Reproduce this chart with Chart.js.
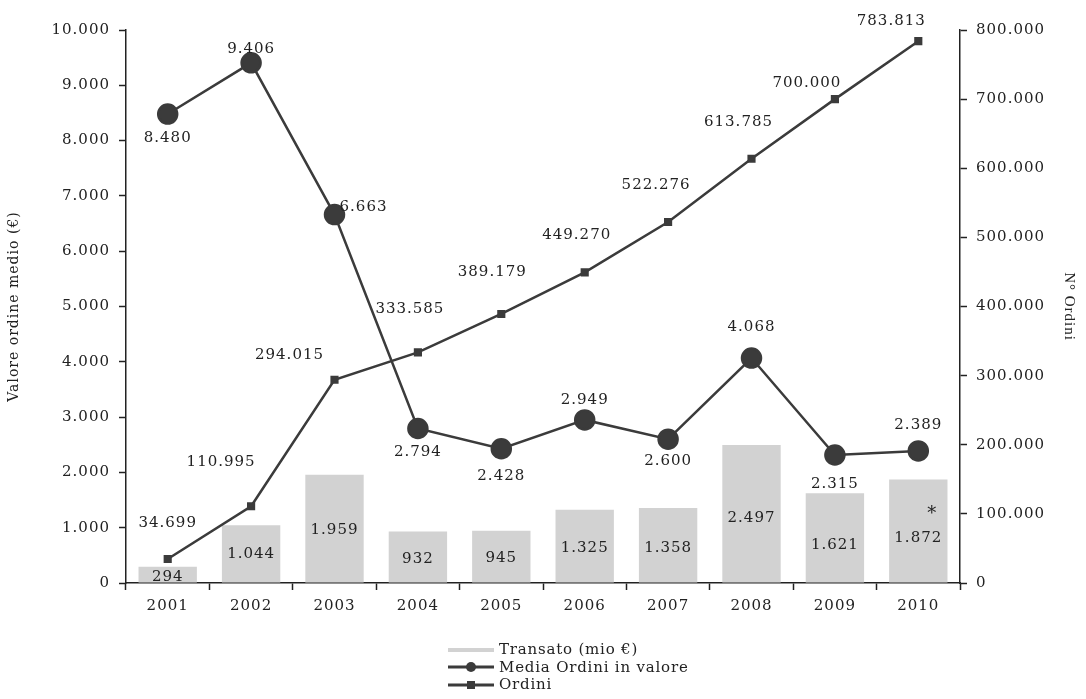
<!DOCTYPE html>
<html>
<head>
<meta charset="utf-8">
<script src="https://cdn.jsdelivr.net/npm/chart.js@4.4.1/dist/chart.umd.min.js"></script>
<style>
  body { margin: 0; background: #fff; }
  #wrap { position: relative; width: 1086px; height: 699px; }
  #legend { position: absolute; left: 446px; top: 641px; font-family: "DejaVu Serif", serif; font-size: 15px; letter-spacing: 0.8px; color: #222; }
  #legend div { height: 17.5px; line-height: 17.5px; display: flex; align-items: center; }
  #legend svg { margin-right: 3px; }
</style>
</head>
<body>
<div id="wrap">
  <canvas id="chart" width="1086" height="699"></canvas>
  <div id="legend">
    <div><svg width="50" height="12"><rect x="2" y="4" width="46" height="4" fill="#d2d2d2"/></svg>Transato (mio €)</div>
    <div><svg width="50" height="12"><line x1="2" y1="6" x2="48" y2="6" stroke="#3b3b3b" stroke-width="3"/><circle cx="25" cy="6" r="5" fill="#3b3b3b"/></svg>Media Ordini in valore</div>
    <div><svg width="50" height="12"><line x1="2" y1="6" x2="48" y2="6" stroke="#3b3b3b" stroke-width="3"/><rect x="21" y="2" width="8" height="8" fill="#3b3b3b"/></svg>Ordini</div>
  </div>
</div>
<script>
// Data
const years = ["2001", "2002", "2003", "2004", "2005", "2006", "2007", "2008", "2009", "2010"];
const transato = [294, 1044, 1959, 932, 945, 1325, 1358, 2497, 1621, 1872];
const mediaOrdini = [8480, 9406, 6663, 2794, 2428, 2949, 2600, 4068, 2315, 2389];
const ordini = [34699, 110995, 294015, 333585, 389179, 449270, 522276, 613785, 700000, 783813];
const barNotes = ["", "", "", "", "", "", "", "", "", "*"];

// label placement (pixels relative to the point)
const mediaOffsets = [[0, 24], [0, -14], [29, -7], [0, 24], [0, 27], [0, -20], [0, 22], [0, -31], [0, 29], [0, -26]];
const ordiniOffsets = [[0, -36], [-30, -44], [-45, -25], [-8, -43], [-9, -42], [-8, -37], [-12, -37], [-13, -37], [-28, -16], [-27, -20]];
const barOffsets = [2, 0, 2, 2, 1, 2, 3, 4, 7, 7];

const fmt = v => String(Math.round(v)).replace(/\B(?=(\d{3})+(?!\d))/g, '.');
const font = "DejaVu Serif";
const ink = "#3b3b3b";

// wider letter spacing like the original
const spacing = {
    id: 'spacing',
    beforeDraw(chart) { chart.ctx.letterSpacing = '1px'; }
};

// draws the value labels next to bars and points
const valueLabels = {
    id: 'valueLabels',
    afterDatasetsDraw(chart) {
        const ctx = chart.ctx;
        ctx.save();
        ctx.letterSpacing = '1px';
        ctx.font = "15px '" + font + "'";
        ctx.fillStyle = "#222";
        ctx.textAlign = "center";
        ctx.textBaseline = "middle";
        chart.data.datasets.forEach((ds, i) => {
            const meta = chart.getDatasetMeta(i);
            meta.data.forEach((el, j) => {
                const txt = fmt(ds.data[j]);
                if (ds.type === 'bar') {
                    const y = (el.y + el.base) / 2 + barOffsets[j];
                    ctx.fillText(txt, el.x, y);
                    if (barNotes[j]) {
                        ctx.font = "18px '" + font + "'";
                        ctx.fillText(barNotes[j], el.x + 14, y - 24);
                        ctx.font = "15px '" + font + "'";
                    }
                } else {
                    const off = ds.yAxisID === 'y1' ? ordiniOffsets[j] : mediaOffsets[j];
                    ctx.fillText(txt, el.x + off[0], el.y + off[1]);
                }
            });
        });
        ctx.restore();
    }
};

const axisGrid = {
    display: true,
    drawOnChartArea: false,
    drawTicks: true,
    tickLength: 7,
    tickWidth: 1.5,
    color: "#222"
};
const tickFont = { family: font, size: 15 };

const config = {
    data: {
        labels: years,
        datasets: [{
            type: 'line',
            label: "Media Ordini in valore",
            data: mediaOrdini,
            yAxisID: 'y',
            borderColor: ink,
            backgroundColor: ink,
            borderWidth: 2.5,
            pointRadius: 9.5,
            pointHoverRadius: 9.5,
            tension: 0,
            order: 1
        }, {
            type: 'line',
            label: "Ordini",
            data: ordini,
            yAxisID: 'y1',
            borderColor: ink,
            backgroundColor: ink,
            borderWidth: 2.5,
            pointStyle: 'rect',
            pointRadius: 4,
            pointHoverRadius: 4,
            tension: 0,
            order: 2
        }, {
            type: 'bar',
            label: "Transato (mio €)",
            data: transato,
            yAxisID: 'y',
            backgroundColor: "#d2d2d2",
            barPercentage: 0.7,
            categoryPercentage: 1,
            order: 3
        }]
    },
    options: {
        responsive: false,
        animation: false,
        layout: {
            padding: { top: 30, left: 6, right: 4, bottom: 0 }
        },
        plugins: {
            legend: { display: false },
            tooltip: { enabled: false }
        },
        scales: {
            x: {
                grid: axisGrid,
                border: { display: true, color: "#222", width: 1.5 },
                ticks: { color: "#222", padding: 7, font: tickFont },
                afterFit: s => { s.height = 116; }
            },
            y: {
                position: 'left',
                min: 0,
                max: 10000,
                grid: axisGrid,
                border: { display: true, color: "#222", width: 1.5 },
                ticks: { stepSize: 1000, color: "#222", padding: 9, font: tickFont, callback: v => fmt(v) },
                title: { display: true, text: "Valore ordine medio (€)", color: "#222", font: { family: "DejaVu Serif", size: 14 }, padding: { top: 0, bottom: 4 } },
                afterFit: s => { s.width = 120; }
            },
            y1: {
                position: 'right',
                min: 0,
                max: 800000,
                grid: axisGrid,
                border: { display: true, color: "#222", width: 1.5 },
                ticks: { stepSize: 100000, color: "#222", padding: 9, font: tickFont, callback: v => fmt(v) },
                title: { display: true, text: "N° Ordini", color: "#222", font: { family: "Liberation Serif", size: 15 }, padding: { top: 4, bottom: 0 } },
                afterFit: s => { s.width = 122; }
            }
        }
    },
    plugins: [spacing, valueLabels]
};

const chart = new Chart(document.getElementById('chart').getContext('2d'), config);
</script>
</body>
</html>
